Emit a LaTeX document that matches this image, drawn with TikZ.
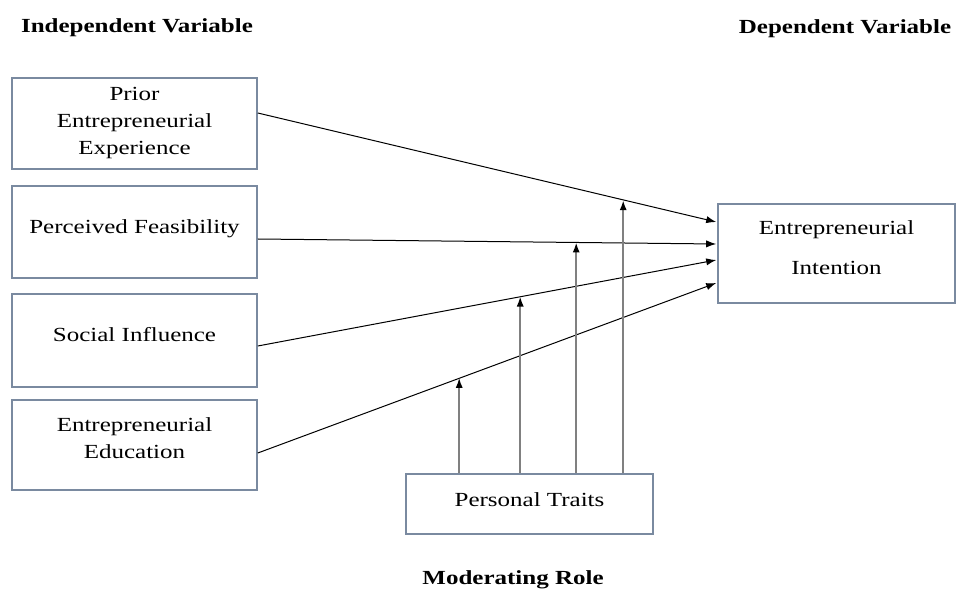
\documentclass[tikz,border=0pt]{standalone}
\usepackage{fontspec}
\setmainfont[FakeStretch=1.25]{Liberation Serif}
\usetikzlibrary{calc,arrows.meta}
\definecolor{boxgray}{RGB}{122,138,160}

\begin{document}
\begin{tikzpicture}[x=0.5pt,y=0.5pt,
  var/.style={draw=boxgray,line width=0.8pt,minimum width=122.5pt,align=center,
    inner sep=0pt,font=\fontsize{10}{13.5}\selectfont},
  head/.style={font=\fontsize{10}{12}\selectfont\bfseries},
  link/.style={-{Latex[length=5pt,width=3.6pt]},line width=0.5pt},
  modlink/.style={-{Latex[length=5pt,width=3.6pt,color=black]},line width=0.9pt,draw=black!50}]
\useasboundingbox (0,0) rectangle (957,589);

% headings
\node[head] (hind) at (137,561) {Independent Variable};
\node[head] (hdep) at (845,560) {Dependent Variable};
\node[head] (hmod) at (513,9) {Moderating Role};

% independent variables
\node[var,minimum height=45.5pt] (pe) at (134.5,465.5) {Prior\\Entrepreneurial\\Experience};
\node[var,minimum height=46pt] (pf) at (134.5,357) {Perceived Feasibility\\[-8.5pt]};
\node[var,minimum height=46.5pt] (si) at (134.5,248.5) {Social Influence\\[-7pt]};
\node[var,minimum height=45pt] (ed) at (134.5,144) {Entrepreneurial\\Education\\[-7pt]};

% dependent and moderating
\node[var,minimum width=118.5pt,minimum height=49.5pt] (ei) at (836.5,335.5) {Entrepreneurial\\[6.5pt]Intention\\[-8pt]};
\node[var,minimum width=123.5pt,minimum height=30pt] (pt) at (529.5,85) {Personal Traits\\[-9.5pt]};

% end points of the links
\coordinate (o1) at ($(pe.east)+(0,10.5)$);
\coordinate (o2) at ($(pf.east)+(0,-7)$);
\coordinate (o3) at ($(si.east)+(0,-5.5)$);
\coordinate (o4) at ($(ed.east)+(0,-8)$);
\coordinate (i1) at ($(ei.west)+(-1,31.5)$);
\coordinate (i2) at ($(ei.west)+(-1,9.5)$);
\coordinate (i3) at ($(ei.west)+(-1,-6.5)$);
\coordinate (i4) at ($(ei.west)+(-1,-29.5)$);

\draw[link] (o1) -- (i1);
\draw[link] (o2) -- (i2);
\draw[link] (o3) -- (i3);
\draw[link] (o4) -- (i4);

% moderating arrows
\coordinate (m1) at ($(o1)!0.80!(i1)$);
\coordinate (m2) at ($(o2)!0.697!(i2)$);
\coordinate (m3) at ($(o3)!0.575!(i3)$);
\coordinate (m4) at ($(o4)!0.442!(i4)$);
\coordinate (s1) at ($(pt.north west)+(218,0)$);
\coordinate (s2) at ($(pt.north west)+(171,0)$);
\coordinate (s3) at ($(pt.north west)+(115,0)$);
\coordinate (s4) at ($(pt.north west)+(54,0)$);

\draw[modlink] (s1) -- (s1 |- m1);
\draw[modlink] (s2) -- (s2 |- m2);
\draw[modlink] (s3) -- (s3 |- m3);
\draw[modlink] (s4) -- (s4 |- m4);

\end{tikzpicture}
\end{document}
